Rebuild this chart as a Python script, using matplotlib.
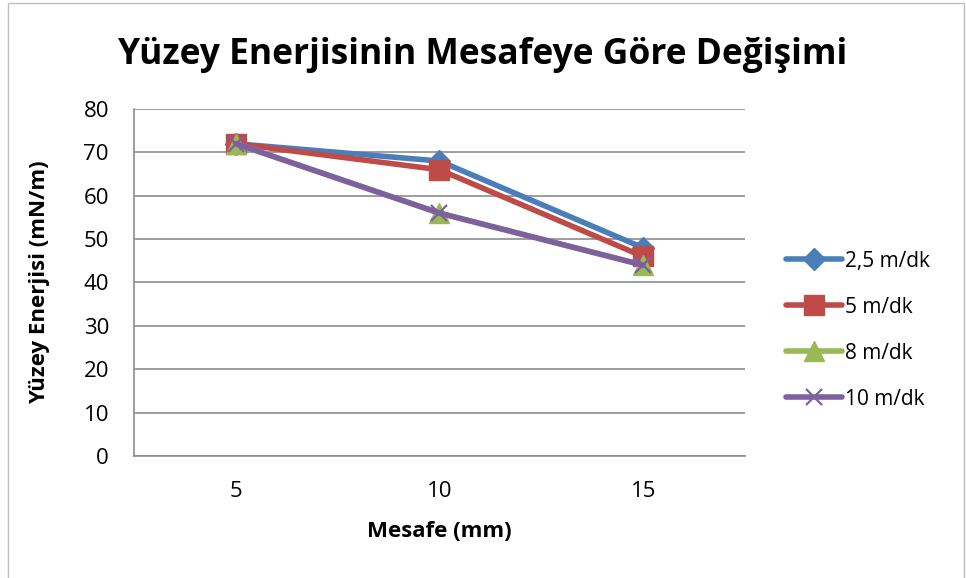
import matplotlib
matplotlib.use("Agg")
import matplotlib.pyplot as plt
from matplotlib.patches import Rectangle

plt.rcParams['font.family'] = ['Open Sans', 'DejaVu Sans']

categories = ["5", "10", "15"]
series_names = ["2,5 m/dk", "5 m/dk", "8 m/dk", "10 m/dk"]
v_25 = [72, 68, 48]
v_5 = [72, 66, 46]
v_8 = [72, 56, 44]
v_10 = [72, 56, 44]
yticks = [0, 10, 20, 30, 40, 50, 60, 70, 80]

colors = ["#4A7EBB", "#BE4B48", "#98B954", "#7D60A0"]
markers = ["D", "s", "^", "x"]
msizes = [11, 14, 14, 12]

fig = plt.figure(figsize=(9.66, 5.78), dpi=100)
ax = fig.add_axes([0.1387, 0.2111, 0.6325, 0.6003])

x = list(range(len(categories)))
for vals, name, c, m, ms in zip([v_25, v_5, v_8, v_10], series_names, colors, markers, msizes):
    kw = dict(color=c, lw=4, marker=m, markersize=ms, label=name, solid_capstyle='round')
    if m == "x":
        kw.update(markeredgewidth=1.6)
    else:
        kw.update(markeredgecolor=c)
    ax.plot(x, vals, **kw)

ax.set_xlim(-0.5, 2.5)
ax.set_ylim(0, 80)
ax.set_xticks(x)
ax.set_xticklabels(categories)
ax.set_yticks(yticks)
ax.tick_params(axis='both', length=0, labelsize=16, colors='black')
ax.tick_params(axis='x', pad=18)
ax.tick_params(axis='y', pad=18)
ax.grid(axis='y', color='#8C8C8C', lw=1.2)
ax.set_axisbelow(True)
for s in ['top', 'right']:
    ax.spines[s].set_visible(False)
for s in ['left', 'bottom']:
    ax.spines[s].set_color('#8C8C8C')
    ax.spines[s].set_linewidth(1.2)

ax.set_xlabel("Mesafe (mm)", fontsize=16, fontweight='bold', labelpad=14)
ax.set_ylabel("Yüzey Enerjisi (mN/m)", fontsize=16, fontweight='bold', labelpad=24)
fig.text(0.5, 0.905, "Yüzey Enerjisinin Mesafeye Göre Değişimi", ha='center', va='center',
         fontsize=25.5, fontweight='bold')

leg = fig.legend(loc='center left', bbox_to_anchor=(0.794, 0.429), frameon=False,
                 fontsize=15, handlelength=2.7, handletextpad=0.15, labelspacing=1.2)

fig.add_artist(Rectangle((0.008, -0.01), 0.99, 1.005, transform=fig.transFigure,
                         fill=False, edgecolor='#BFBFBF', lw=1))

fig.savefig("out.png", dpi=100)
